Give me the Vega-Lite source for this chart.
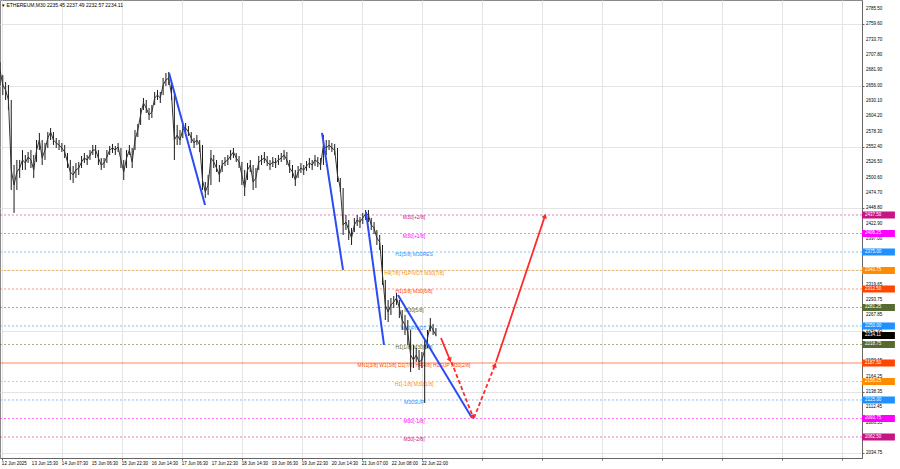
{
"$schema": "https://vega.github.io/schema/vega-lite/v6.json",
"width": 862, "height": 458,
"autosize": {"type": "none"},
"padding": {"left": 0, "top": 0, "right": 38, "bottom": 11},
"background": "#ffffff",
"config": {"view": {"stroke": "#8a8a8a", "strokeWidth": 1}, "font": "Liberation Sans", "text": {"font": "Liberation Sans"},
 "axis": {"gridColor": "#e4e4e4", "tickColor": "#666666", "domainColor": "#666666", "tickSize": 2, "title": null}},
"title": {"text": "▾ ETHEREUM,M30  2235.45 2237.49 2232.57 2234.11", "anchor": "start", "frame": "group", "offset": -8, "fontSize": 5, "fontWeight": "normal", "color": "#000000", "dx": 2, "font": "Liberation Sans"},
"datasets": {
"bars": [
{"i":0,"h":2695.9,"l":2657.0,"c":2682.4},
{"i":3,"h":2673.9,"l":2640.1,"c":2657.0},
{"i":6,"h":2662.1,"l":2631.7,"c":2648.6},
{"i":9,"h":2657.0,"l":2614.8,"c":2631.7},
{"i":12,"h":2631.7,"l":2479.7,"c":2513.5},
{"i":15,"h":2521.9,"l":2440.9,"c":2488.1},
{"i":18,"h":2530.4,"l":2479.7,"c":2510.1},
{"i":21,"h":2530.4,"l":2500.0,"c":2516.8},
{"i":24,"h":2547.2,"l":2513.5,"c":2530.4},
{"i":27,"h":2538.8,"l":2513.5,"c":2525.3},
{"i":30,"h":2543.9,"l":2525.3,"c":2535.4},
{"i":33,"h":2547.2,"l":2516.8,"c":2530.4},
{"i":36,"h":2538.8,"l":2500.0,"c":2513.5},
{"i":39,"h":2564.1,"l":2527.0,"c":2547.2},
{"i":42,"h":2576.0,"l":2547.2,"c":2564.1},
{"i":45,"h":2564.1,"l":2521.9,"c":2533.7},
{"i":48,"h":2559.1,"l":2530.4,"c":2547.2},
{"i":51,"h":2577.6,"l":2550.6,"c":2567.5},
{"i":54,"h":2584.4,"l":2564.1,"c":2577.6},
{"i":57,"h":2577.6,"l":2555.7,"c":2564.1},
{"i":60,"h":2567.5,"l":2550.6,"c":2559.1},
{"i":63,"h":2564.1,"l":2547.2,"c":2555.7},
{"i":66,"h":2559.1,"l":2543.9,"c":2550.6},
{"i":69,"h":2555.7,"l":2533.7,"c":2543.9},
{"i":72,"h":2542.2,"l":2516.8,"c":2527.0},
{"i":75,"h":2530.4,"l":2496.6,"c":2510.1},
{"i":78,"h":2520.2,"l":2491.5,"c":2505.0},
{"i":81,"h":2525.3,"l":2500.0,"c":2513.5},
{"i":84,"h":2527.0,"l":2505.0,"c":2516.8},
{"i":87,"h":2537.1,"l":2516.8,"c":2527.0},
{"i":90,"h":2542.2,"l":2525.3,"c":2533.7},
{"i":93,"h":2538.8,"l":2521.9,"c":2530.4},
{"i":96,"h":2547.2,"l":2530.4,"c":2538.8},
{"i":99,"h":2555.7,"l":2538.8,"c":2547.2},
{"i":102,"h":2555.7,"l":2533.7,"c":2547.2},
{"i":105,"h":2547.2,"l":2521.9,"c":2533.7},
{"i":108,"h":2533.7,"l":2513.5,"c":2521.9},
{"i":111,"h":2533.7,"l":2516.8,"c":2525.3},
{"i":114,"h":2547.2,"l":2525.3,"c":2535.4},
{"i":117,"h":2554.0,"l":2538.8,"c":2547.2},
{"i":120,"h":2557.4,"l":2542.2,"c":2550.6},
{"i":123,"h":2554.0,"l":2538.8,"c":2547.2},
{"i":126,"h":2559.1,"l":2543.9,"c":2552.3},
{"i":129,"h":2550.6,"l":2516.8,"c":2530.4},
{"i":132,"h":2530.4,"l":2496.6,"c":2510.1},
{"i":135,"h":2547.2,"l":2516.8,"c":2533.7},
{"i":138,"h":2555.7,"l":2538.8,"c":2547.2},
{"i":141,"h":2550.6,"l":2516.8,"c":2527.0},
{"i":144,"h":2581.0,"l":2547.2,"c":2564.1},
{"i":147,"h":2591.2,"l":2569.2,"c":2581.0},
{"i":150,"h":2618.2,"l":2589.5,"c":2606.4},
{"i":153,"h":2635.1,"l":2614.8,"c":2626.6},
{"i":156,"h":2631.7,"l":2609.7,"c":2618.2},
{"i":159,"h":2618.2,"l":2597.9,"c":2606.4},
{"i":162,"h":2623.2,"l":2601.3,"c":2611.4},
{"i":165,"h":2645.2,"l":2623.2,"c":2635.1},
{"i":168,"h":2648.6,"l":2631.7,"c":2640.1},
{"i":171,"h":2645.2,"l":2626.6,"c":2635.1},
{"i":174,"h":2668.9,"l":2640.1,"c":2657.0},
{"i":177,"h":2677.3,"l":2655.3,"c":2665.5},
{"i":180,"h":2679.0,"l":2657.0,"c":2668.9},
{"i":183,"h":2665.5,"l":2631.7,"c":2640.1},
{"i":186,"h":2640.1,"l":2530.4,"c":2564.1},
{"i":189,"h":2589.5,"l":2555.7,"c":2572.6},
{"i":192,"h":2581.0,"l":2555.7,"c":2564.1},
{"i":195,"h":2589.5,"l":2567.5,"c":2581.0},
{"i":198,"h":2592.9,"l":2576.0,"c":2584.4},
{"i":201,"h":2587.8,"l":2570.9,"c":2577.6},
{"i":204,"h":2577.6,"l":2559.1,"c":2567.5},
{"i":207,"h":2567.5,"l":2550.6,"c":2559.1},
{"i":210,"h":2572.6,"l":2555.7,"c":2564.1},
{"i":213,"h":2564.1,"l":2543.9,"c":2555.7},
{"i":216,"h":2555.7,"l":2479.7,"c":2496.6},
{"i":219,"h":2493.2,"l":2466.2,"c":2476.3},
{"i":222,"h":2505.0,"l":2471.2,"c":2488.1},
{"i":225,"h":2547.2,"l":2488.1,"c":2533.7},
{"i":228,"h":2538.8,"l":2516.8,"c":2527.0},
{"i":231,"h":2530.4,"l":2510.1,"c":2516.8},
{"i":234,"h":2521.9,"l":2493.2,"c":2505.0},
{"i":237,"h":2530.4,"l":2510.1,"c":2521.9},
{"i":240,"h":2535.4,"l":2520.2,"c":2527.0},
{"i":243,"h":2538.8,"l":2521.9,"c":2530.4},
{"i":246,"h":2547.2,"l":2530.4,"c":2537.1},
{"i":249,"h":2550.6,"l":2533.7,"c":2543.9},
{"i":252,"h":2542.2,"l":2527.0,"c":2533.7},
{"i":255,"h":2537.1,"l":2516.8,"c":2527.0},
{"i":258,"h":2527.0,"l":2488.1,"c":2505.0},
{"i":261,"h":2513.5,"l":2469.5,"c":2483.1},
{"i":264,"h":2525.3,"l":2496.6,"c":2513.5},
{"i":267,"h":2530.4,"l":2510.1,"c":2521.9},
{"i":270,"h":2521.9,"l":2479.7,"c":2493.2},
{"i":273,"h":2516.8,"l":2483.1,"c":2500.0},
{"i":276,"h":2537.1,"l":2513.5,"c":2527.0},
{"i":279,"h":2538.8,"l":2521.9,"c":2530.4},
{"i":282,"h":2543.9,"l":2525.3,"c":2533.7},
{"i":285,"h":2537.1,"l":2520.2,"c":2527.0},
{"i":288,"h":2530.4,"l":2513.5,"c":2521.9},
{"i":291,"h":2535.4,"l":2518.5,"c":2527.0},
{"i":294,"h":2533.7,"l":2516.8,"c":2525.3},
{"i":297,"h":2538.8,"l":2521.9,"c":2530.4},
{"i":300,"h":2542.2,"l":2527.0,"c":2533.7},
{"i":303,"h":2547.2,"l":2530.4,"c":2538.8},
{"i":306,"h":2543.9,"l":2521.9,"c":2530.4},
{"i":309,"h":2530.4,"l":2508.4,"c":2516.8},
{"i":312,"h":2521.9,"l":2500.0,"c":2510.1},
{"i":315,"h":2513.5,"l":2486.4,"c":2496.6},
{"i":318,"h":2520.2,"l":2500.0,"c":2510.1},
{"i":321,"h":2525.3,"l":2508.4,"c":2516.8},
{"i":324,"h":2521.9,"l":2505.0,"c":2513.5},
{"i":327,"h":2528.7,"l":2511.8,"c":2520.2},
{"i":330,"h":2533.7,"l":2516.8,"c":2525.3},
{"i":333,"h":2530.4,"l":2513.5,"c":2521.9},
{"i":336,"h":2538.8,"l":2520.2,"c":2530.4},
{"i":339,"h":2535.4,"l":2518.5,"c":2527.0},
{"i":342,"h":2533.7,"l":2513.5,"c":2521.9},
{"i":345,"h":2572.6,"l":2521.9,"c":2555.7},
{"i":348,"h":2564.1,"l":2538.8,"c":2550.6},
{"i":351,"h":2564.1,"l":2547.2,"c":2555.7},
{"i":354,"h":2559.1,"l":2543.9,"c":2550.6},
{"i":357,"h":2557.4,"l":2538.8,"c":2547.2},
{"i":360,"h":2550.6,"l":2493.2,"c":2505.0},
{"i":363,"h":2500.0,"l":2476.3,"c":2483.1},
{"i":366,"h":2483.1,"l":2403.7,"c":2420.6},
{"i":369,"h":2437.5,"l":2412.1,"c":2425.6},
{"i":372,"h":2429.0,"l":2395.2,"c":2412.1},
{"i":375,"h":2415.5,"l":2386.8,"c":2398.6},
{"i":378,"h":2432.4,"l":2408.8,"c":2420.6},
{"i":381,"h":2437.5,"l":2418.9,"c":2429.0},
{"i":384,"h":2434.1,"l":2415.5,"c":2425.6},
{"i":387,"h":2440.9,"l":2422.3,"c":2432.4},
{"i":390,"h":2445.9,"l":2429.0,"c":2439.2},
{"i":393,"h":2445.9,"l":2425.6,"c":2437.5},
{"i":396,"h":2432.4,"l":2412.1,"c":2420.6},
{"i":399,"h":2425.6,"l":2405.4,"c":2415.5},
{"i":402,"h":2412.1,"l":2386.8,"c":2398.6},
{"i":405,"h":2403.7,"l":2378.4,"c":2391.9},
{"i":408,"h":2386.8,"l":2319.3,"c":2336.2},
{"i":411,"h":2327.7,"l":2260.1,"c":2285.5},
{"i":414,"h":2293.9,"l":2256.7,"c":2273.6},
{"i":417,"h":2297.3,"l":2268.6,"c":2285.5},
{"i":420,"h":2300.7,"l":2280.4,"c":2290.5},
{"i":423,"h":2305.7,"l":2285.5,"c":2297.3},
{"i":426,"h":2293.9,"l":2263.5,"c":2280.4},
{"i":429,"h":2277.0,"l":2243.2,"c":2260.1},
{"i":432,"h":2268.6,"l":2234.8,"c":2251.7},
{"i":435,"h":2260.1,"l":2217.9,"c":2239.9},
{"i":438,"h":2243.2,"l":2172.3,"c":2201.0},
{"i":441,"h":2217.9,"l":2179.0,"c":2192.6},
{"i":444,"h":2212.8,"l":2189.2,"c":2201.0},
{"i":447,"h":2209.5,"l":2175.7,"c":2189.2},
{"i":450,"h":2206.1,"l":2179.0,"c":2192.6},
{"i":453,"h":2226.3,"l":2119.9,"c":2209.5},
{"i":456,"h":2243.2,"l":2212.8,"c":2229.3},
{"i":459,"h":2263.5,"l":2240.9,"c":2251.7},
{"i":462,"h":2253.4,"l":2234.8,"c":2243.2},
{"i":465,"h":2246.6,"l":2232.6,"c":2234.11}
],
"levels": [
{"p":2437.5,"name":"M30[+2/8]"},
{"p":2406.25,"name":"M30[+1/8]"},
{"p":2375.0,"name":"H1[5/8] M30RES"},
{"p":2343.75,"name":"H4[7/8] H1PIVOT M30[7/8]"},
{"p":2312.5,"name":"H1[3/8] M30[6/8]"},
{"p":2281.25,"name":"M30[5/8]"},
{"p":2250.0,"name":"M30PIVOT"},
{"p":2218.75,"name":"H1[1/8] M30[3/8]"},
{"p":2187.5,"name":"MN1[3/8] W1[3/8] D1[7/8] H4[4/8] H1SUP M30[2/8]"},
{"p":2156.25,"name":"H1[-1/8] M30[1/8]"},
{"p":2125.0,"name":"M30SUP"},
{"p":2093.75,"name":"M30[-1/8]"},
{"p":2062.5,"name":"M30[-2/8]"}
],
"last": [{"p":2234.11}],
"xt": [
{"i":2,"t":"12 Jun 2025"},{"i":34,"t":"13 Jun 15:30"},{"i":66,"t":"14 Jun 07:30"},{"i":98,"t":"15 Jun 06:30"},{"i":130,"t":"15 Jun 22:30"},{"i":162,"t":"16 Jun 14:30"},{"i":194,"t":"17 Jun 06:30"},{"i":226,"t":"17 Jun 22:30"},{"i":258,"t":"18 Jun 14:30"},{"i":290,"t":"19 Jun 06:30"},{"i":322,"t":"19 Jun 22:30"},{"i":354,"t":"20 Jun 14:30"},{"i":386,"t":"21 Jun 07:00"},{"i":418,"t":"22 Jun 08:00"},{"i":450,"t":"22 Jun 22:00"}
],
"yt": [
{"p":2034.75},{"p":2060.65},{"p":2086.55},{"p":2112.45},{"p":2138.35},{"p":2164.25},{"p":2190.15},{"p":2216.05},{"p":2241.95},{"p":2267.85},{"p":2293.75},{"p":2319.65},{"p":2397.0},{"p":2422.9},{"p":2448.8},{"p":2474.7},{"p":2500.6},{"p":2526.5},{"p":2552.4},{"p":2578.3},{"p":2604.2},{"p":2630.1},{"p":2656.0},{"p":2681.9},{"p":2707.8},{"p":2733.7},{"p":2759.6},{"p":2785.5}
],
"trend": [
{"id":1,"i":180.3,"p":2677.3},{"id":1,"i":218.7,"p":2454.3},
{"id":2,"i":343.5,"p":2576.0},{"id":2,"i":365.9,"p":2344.6},
{"id":3,"i":390.4,"p":2442.5},{"id":3,"i":409.6,"p":2217.9},
{"id":4,"i":424.5,"p":2302.4},{"id":4,"i":503.5,"p":2094.6}
],
"arrows": [
{"seg":"A","kind":"solid","i":470.4,"p":2229.7},{"seg":"A","kind":"solid","i":480.0,"p":2192.6},
{"seg":"B","kind":"dashed","i":481.6,"p":2189.2},{"seg":"B","kind":"dashed","i":504.5,"p":2096.3},
{"seg":"C","kind":"dashed","i":505.6,"p":2094.6},{"seg":"C","kind":"dashed","i":528.0,"p":2184.1},
{"seg":"D","kind":"solid","i":529.1,"p":2189.2},{"seg":"D","kind":"solid","i":581.3,"p":2435.8}
],
"heads": [
{"seg":"A","i":480.0,"p":2192.6},
{"seg":"B","i":504.5,"p":2096.3},
{"seg":"C","i":528.0,"p":2184.1},
{"seg":"D","i":581.3,"p":2435.8}
]
},
"layer": [
{
"data": {"name": "bars"},
"mark": {"type": "rule", "color": "#1a1a1a", "strokeWidth": 1, "opacity": 0},
"encoding": {
"x": {"field": "i", "type": "quantitative", "title": null, "scale": {"domain": [0, 919.5], "nice": false, "zero": false},
 "axis": {"orient": "bottom", "values": [2,18,34,50,66,82,98,114,130,146,162,178,194,210,226,242,258,274,290,306,322,338,354,370,386,402,418,434,450,466,482,498,514,530,546,562,578,594,610,626,642,658,674,690,706,722,738,754,770,786,802,818,834,850,866,882,898,914],
 "labels": false, "grid": true, "gridColor": "#e4e4e4", "gridWidth": 1, "tickSize": 2}},
"y": {"field": "l", "type": "quantitative", "title": null, "scale": {"domain": [2027.0, 2800.6], "nice": false, "zero": false},
 "axis": {"orient": "right", "values": [2034.75,2060.65,2086.55,2112.45,2138.35,2164.25,2190.15,2216.05,2241.95,2267.85,2293.75,2319.65,2345.2,2371.1,2397.0,2422.9,2448.8,2474.7,2500.6,2526.5,2552.4,2578.3,2604.2,2630.1,2656.0,2681.9,2707.8,2733.7,2759.6,2785.5],
 "labels": false, "grid": true, "gridColor": "#e4e4e4", "gridWidth": 1, "tickSize": 2}},
"y2": {"field": "h"}
}
},
{
"data": {"name": "levels"},
"mark": {"type": "rule", "clip": true},
"encoding": {
"y": {"field": "p", "type": "quantitative", "title": null},
"color": {"field": "name", "type": "nominal", "legend": null, "scale": {"domain": ["M30[+2/8]","M30[+1/8]","H1[5/8] M30RES","H4[7/8] H1PIVOT M30[7/8]","H1[3/8] M30[6/8]","M30[5/8]","M30PIVOT","H1[1/8] M30[3/8]","MN1[3/8] W1[3/8] D1[7/8] H4[4/8] H1SUP M30[2/8]","H1[-1/8] M30[1/8]","M30SUP","M30[-1/8]","M30[-2/8]"], "range": ["#c71585","#ff00ff","#1e90ff","#ff8c00","#ff4500","#556b2f","#1e90ff","#556b2f","#ff4500","#ff8c00","#1e90ff","#ff00ff","#c71585"]}},
"strokeDash": {"condition": {"test": "datum.p == 2187.5", "value": [1, 0]}, "value": [2, 2]},
"strokeWidth": {"condition": {"test": "datum.p == 2187.5", "value": 1.2}, "value": 1},
"opacity": {"condition": {"test": "datum.p == 2187.5", "value": 0.65}, "value": 0.55}
}
},
{
"data": {"name": "levels"},
"mark": {"type": "text", "fontSize": 5, "align": "center", "baseline": "middle", "dy": 2.5, "font": "Liberation Sans"},
"encoding": {
"x": {"datum": 441.6, "type": "quantitative"},
"y": {"field": "p", "type": "quantitative", "title": null},
"text": {"field": "name"},
"color": {"field": "name", "type": "nominal", "legend": null}
}
},
{
"data": {"name": "bars"},
"mark": {"type": "rule", "color": "#1a1a1a", "strokeWidth": 1},
"encoding": {
"x": {"field": "i", "type": "quantitative", "title": null},
"y": {"field": "l", "type": "quantitative", "title": null},
"y2": {"field": "h"}
}
},
{
"data": {"name": "bars"},
"mark": {"type": "line", "color": "#333333", "strokeWidth": 1},
"encoding": {
"x": {"field": "i", "type": "quantitative", "title": null},
"y": {"field": "c", "type": "quantitative", "title": null}
}
},
{
"data": {"name": "trend"},
"mark": {"type": "line", "color": "#2b4cf2", "strokeWidth": 2},
"encoding": {
"x": {"field": "i", "type": "quantitative", "title": null},
"y": {"field": "p", "type": "quantitative", "title": null},
"detail": {"field": "id", "type": "nominal"}
}
},
{
"data": {"name": "arrows"},
"mark": {"type": "line", "color": "#ff2a2a", "strokeWidth": 1.8},
"encoding": {
"x": {"field": "i", "type": "quantitative", "title": null},
"y": {"field": "p", "type": "quantitative", "title": null},
"detail": {"field": "seg", "type": "nominal"},
"strokeDash": {"field": "kind", "type": "nominal", "legend": null, "scale": {"domain": ["solid", "dashed"], "range": [[1, 0], [4, 2.5]]}}
}
},
{
"data": {"name": "heads"},
"transform": [{"filter": "datum.seg == 'A'"}],
"mark": {"type": "point", "shape": "triangle-up", "filled": true, "color": "#ff2a2a", "size": 30, "angle": 156, "opacity": 1},
"encoding": {"x": {"field": "i", "type": "quantitative", "title": null}, "y": {"field": "p", "type": "quantitative", "title": null}}
},
{
"data": {"name": "heads"},
"transform": [{"filter": "datum.seg == 'B'"}],
"mark": {"type": "point", "shape": "triangle-up", "filled": true, "color": "#ff2a2a", "size": 30, "angle": 158, "opacity": 1},
"encoding": {"x": {"field": "i", "type": "quantitative", "title": null}, "y": {"field": "p", "type": "quantitative", "title": null}}
},
{
"data": {"name": "heads"},
"transform": [{"filter": "datum.seg == 'C'"}],
"mark": {"type": "point", "shape": "triangle-up", "filled": true, "color": "#ff2a2a", "size": 30, "angle": 21, "opacity": 1},
"encoding": {"x": {"field": "i", "type": "quantitative", "title": null}, "y": {"field": "p", "type": "quantitative", "title": null}}
},
{
"data": {"name": "heads"},
"transform": [{"filter": "datum.seg == 'D'"}],
"mark": {"type": "point", "shape": "triangle-up", "filled": true, "color": "#ff2a2a", "size": 30, "angle": 19, "opacity": 1},
"encoding": {"x": {"field": "i", "type": "quantitative", "title": null}, "y": {"field": "p", "type": "quantitative", "title": null}}
},
{
"data": {"name": "xt"},
"mark": {"type": "text", "fontSize": 4.5, "align": "left", "baseline": "middle", "dy": 5.5, "dx": 0, "color": "#000000", "font": "Liberation Sans", "clip": false},
"encoding": {
"x": {"field": "i", "type": "quantitative", "title": null},
"y": {"value": "height"},
"text": {"field": "t"}
}
},
{
"data": {"name": "yt"},
"mark": {"type": "text", "fontSize": 4.5, "align": "left", "baseline": "middle", "dx": 4, "color": "#000000", "font": "Liberation Sans", "clip": false},
"encoding": {
"x": {"value": "width"},
"y": {"field": "p", "type": "quantitative", "title": null},
"text": {"field": "p", "type": "quantitative", "format": ".2f"}
}
},
{
"data": {"name": "levels"},
"mark": {"type": "point", "shape": "M0,-1H9.4V1H0Z", "filled": true, "size": 49, "opacity": 1, "clip": false, "strokeWidth": 0},
"encoding": {
"x": {"value": "width"},
"y": {"field": "p", "type": "quantitative", "title": null},
"fill": {"field": "name", "type": "nominal", "legend": null, "scale": {"domain": ["M30[+2/8]","M30[+1/8]","H1[5/8] M30RES","H4[7/8] H1PIVOT M30[7/8]","H1[3/8] M30[6/8]","M30[5/8]","M30PIVOT","H1[1/8] M30[3/8]","MN1[3/8] W1[3/8] D1[7/8] H4[4/8] H1SUP M30[2/8]","H1[-1/8] M30[1/8]","M30SUP","M30[-1/8]","M30[-2/8]"], "range": ["#c71585","#ff00ff","#1e90ff","#ff8c00","#ff4500","#556b2f","#1e90ff","#556b2f","#ff4500","#ff8c00","#1e90ff","#ff00ff","#c71585"]}}
}
},
{
"data": {"name": "last"},
"mark": {"type": "point", "shape": "M0,-1H9.4V1H0Z", "filled": true, "size": 49, "opacity": 1, "clip": false, "strokeWidth": 0, "color": "#000000"},
"encoding": {
"x": {"value": "width"},
"y": {"field": "p", "type": "quantitative", "title": null}
}
},
{
"data": {"name": "levels"},
"mark": {"type": "text", "fontSize": 4.5, "align": "left", "baseline": "middle", "dx": 3, "color": "#ffffff", "font": "Liberation Sans"},
"encoding": {
"x": {"value": "width"},
"y": {"field": "p", "type": "quantitative", "title": null},
"text": {"field": "p", "type": "quantitative", "format": ".2f"}
}
},
{
"data": {"name": "last"},
"mark": {"type": "text", "fontSize": 4.5, "align": "left", "baseline": "middle", "dx": 3, "color": "#ffffff", "font": "Liberation Sans"},
"encoding": {
"x": {"value": "width"},
"y": {"field": "p", "type": "quantitative", "title": null},
"text": {"field": "p", "type": "quantitative", "format": ".2f"}
}
}
]
}
